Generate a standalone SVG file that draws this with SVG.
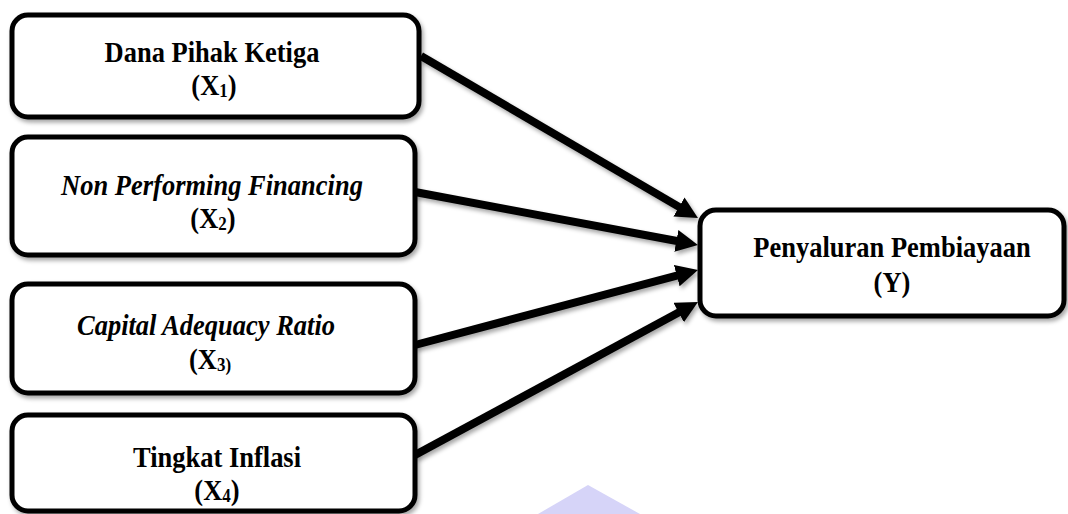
<svg xmlns="http://www.w3.org/2000/svg" width="1068" height="514" viewBox="0 0 1068 514">
<style>
.box{fill:#fff;stroke:#000;stroke-width:5}
.t{font-family:'Liberation Serif',serif;font-weight:700;font-size:26.5px;fill:#000;text-anchor:middle}
.i{font-style:italic}
.sub{font-size:17px}
.con line{stroke:#000;stroke-width:8}
</style>
<defs>
<filter id="sh" x="-10%" y="-10%" width="130%" height="130%">
<feDropShadow dx="2" dy="3" stdDeviation="2" flood-color="#000" flood-opacity="0.35"/>
</filter>
<marker id="ah" markerUnits="userSpaceOnUse" markerWidth="24" markerHeight="24" refX="2" refY="11" orient="auto">
<path d="M0,0 L22,11 L0,22 z" fill="#000"/>
</marker>
</defs>
<rect width="1068" height="514" fill="#fff"/>
<polygon points="588,485 640,514 538,514" fill="#d6d4f8"/>
<g id="connectors" class="con" filter="url(#sh)">
<line x1="421" y1="56" x2="680.7" y2="207.9" marker-end="url(#ah)"/>
<line x1="415" y1="192" x2="678.3" y2="241.3" marker-end="url(#ah)"/>
<line x1="415" y1="345" x2="678.7" y2="275.1" marker-end="url(#ah)"/>
<line x1="415" y1="455" x2="680.4" y2="311.5" marker-end="url(#ah)"/>
</g>
<g id="x1" filter="url(#sh)">
<rect class="box" x="12" y="15" width="407" height="102" rx="16"/>
</g>
<g id="x1-text">
<text class="t" font-family="Liberation Serif" transform="translate(212,62) scale(1,1.12)">Dana Pihak Ketiga</text>
<text class="t" font-family="Liberation Serif" transform="translate(214,95) scale(1,1.12)">(X<tspan class="sub" dy="2">1</tspan><tspan dy="-2">)</tspan></text>
</g>
<g id="x2" filter="url(#sh)">
<rect class="box" x="12" y="137" width="403" height="118" rx="16"/>
</g>
<g id="x2-text">
<text class="t i" transform="translate(212,195) scale(1,1.12)">Non Performing Financing</text>
<text class="t" transform="translate(213,228) scale(1,1.12)">(X<tspan class="sub" dy="2">2</tspan><tspan dy="-2">)</tspan></text>
</g>
<g id="x3" filter="url(#sh)">
<rect class="box" x="12" y="284" width="403" height="109" rx="16"/>
</g>
<g id="x3-text">
<text class="t i" transform="translate(206,335) scale(1,1.12)">Capital Adequacy Ratio</text>
<text class="t" transform="translate(210,369) scale(1,1.12)">(X<tspan class="sub" dy="2">3)</tspan></text>
</g>
<g id="x4" filter="url(#sh)">
<rect class="box" x="12" y="415" width="403" height="96" rx="16"/>
</g>
<g id="x4-text">
<text class="t" transform="translate(217,467) scale(1,1.12)">Tingkat Inflasi</text>
<text class="t" transform="translate(217,500) scale(1,1.12)">(X<tspan class="sub" dy="2">4</tspan><tspan dy="-2">)</tspan></text>
</g>
<g id="y" filter="url(#sh)">
<rect class="box" x="700" y="210" width="364" height="106" rx="16"/>
</g>
<g id="y-text">
<text class="t" transform="translate(892,257) scale(1,1.12)">Penyaluran Pembiayaan</text>
<text class="t" transform="translate(892,292) scale(1,1.12)">(Y)</text>
</g>
</svg>
